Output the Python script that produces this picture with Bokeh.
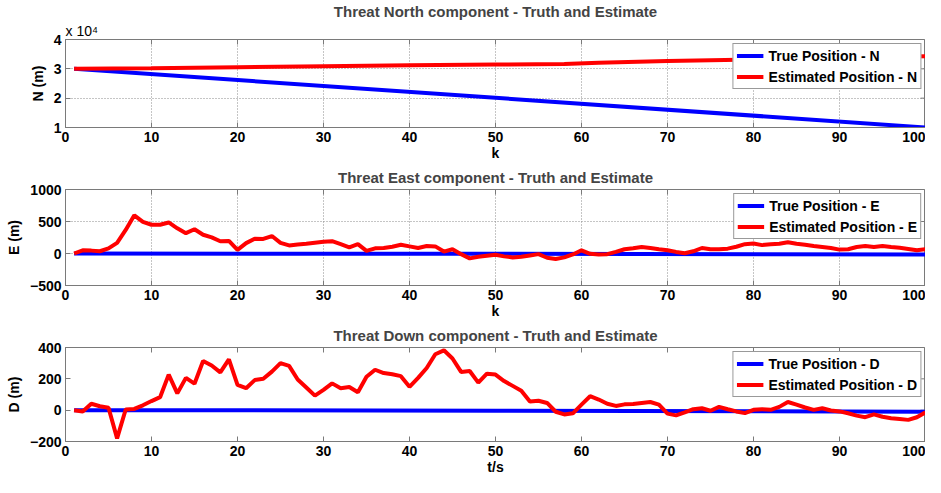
import math
from bokeh.plotting import figure
from bokeh.layouts import column
from bokeh.models import (Legend, LegendItem, Title, CustomJSTickFormatter,
                          FixedTicker, Range1d)
from bokeh.embed import file_html
from bokeh.resources import INLINE

FONT = "Liberation Sans"

# ---------------- data ----------------
k_true_n = [1, 100]
n_true = [30000, 10000]
k_est_n = [1, 10, 20, 30, 40, 50, 58, 62, 70, 80, 90, 100]
n_est = [30000, 30200, 30550, 30900, 31200, 31450, 31650, 32100, 32700, 33200, 33700, 34300]

k = list(range(1, 101))

k_true_e = [1, 50, 100]
e_true = [0, -5, -15]
e_est = [0, 50, 45, 35, 80, 167, 368, 596, 495, 449,
         449, 485, 394, 318, 379, 293, 253, 192, 197, 56,
         162, 232, 227, 273, 167, 126, 141, 152, 167, 182,
         192, 146, 96, 146, 40, 81, 86, 106, 136, 111,
         86, 116, 111, 30, 66, -10, -76, -50, -35, -20,
         -45, -61, -50, -30, -10, -66, -86, -61, -15, 50,
         -5, -15, -10, 25, 66, 81, 101, 86, 66, 50,
         25, 5, 35, 86, 66, 66, 76, 106, 146, 156,
         131, 146, 151, 177, 151, 136, 116, 101, 86, 61,
         66, 101, 116, 101, 116, 101, 91, 71, 50, 66]

k_true_d = [1, 50, 100]
d_true = [0, -3, -10]
d_est = [0, -8, 41, 25, 15, -180, 4, 8, 31, 58,
         83, 227, 107, 206, 169, 314, 285, 241, 324, 161,
         140, 192, 200, 246, 300, 283, 196, 145, 93, 130,
         171, 140, 148, 114, 213, 258, 237, 229, 217, 149,
         206, 269, 357, 382, 330, 244, 250, 176, 233, 227,
         186, 155, 124, 56, 60, 46, -10, -27, -20, 35,
         89, 68, 41, 27, 37, 40, 46, 52, 35, -22,
         -33, -14, 6, 12, -4, 21, 6, -8, -19, 2,
         6, 2, 21, 52, 35, 17, 2, 12, -2, -8,
         -20, -35, -45, -27, -42, -51, -56, -62, -45, -14]

x_ticks = [0, 10, 20, 30, 40, 50, 60, 70, 80, 90, 100]
n_ticks = [10000, 20000, 30000, 40000]
e_ticks = [-500, 0, 500, 1000]
d_ticks = [-200, 0, 200, 400]

titles = ["Threat North component - Truth and Estimate",
          "Threat East component - Truth and Estimate",
          "Threat Down component - Truth and Estimate"]

AX = "#7a7a7a"
BLUE = "#0000ff"
RED = "#ff0000"
LW = 4
W = 923


def make_panel(title, height, yr, yticks, ylabel, xlabel,
               kt, yt, ke, ye, suffix, grid=True, standoff=5):
    p = figure(width=W, height=height, output_backend="svg", toolbar_location=None,
               x_range=Range1d(0, 100), y_range=Range1d(*yr),
               min_border_left=0, min_border_right=0,
               min_border_top=0, min_border_bottom=0)
    p.title.text = title
    p.title.align = "center"
    p.title.text_font = FONT
    p.title.text_font_size = "15px"
    p.title.text_font_style = "bold"
    p.title.text_line_height = 1.0
    p.title.standoff = standoff
    p.outline_line_color = AX
    p.background_fill_color = "white"
    p.border_fill_color = "white"

    for ax in (p.xaxis[0], p.yaxis[0]):
        ax.major_tick_in = 5
        ax.major_tick_out = 0
        ax.minor_tick_line_color = None
        ax.axis_line_color = AX
        ax.major_tick_line_color = AX
        ax.major_label_text_font = FONT
        ax.major_label_text_font_size = "14px"
        ax.major_label_text_font_style = "bold"
        ax.major_label_text_color = "black"
        ax.major_label_text_line_height = 1.0
        ax.axis_label_text_font = FONT
        ax.axis_label_text_font_size = "14px"
        ax.axis_label_text_font_style = "bold"
        ax.axis_label_text_color = "black"
        ax.axis_label_text_line_height = 1.0
    p.xaxis[0].major_label_standoff = 4
    p.xaxis[0].axis_label_standoff = 0
    p.yaxis[0].major_label_standoff = 4
    p.yaxis[0].axis_label_standoff = 5
    p.xaxis[0].ticker = FixedTicker(ticks=x_ticks)
    p.yaxis[0].ticker = FixedTicker(ticks=yticks)
    p.xaxis[0].axis_label = xlabel
    p.yaxis[0].axis_label = ylabel

    if grid:
        p.grid.grid_line_color = "#8a8a8a"
        p.grid.grid_line_dash = "1 2"
        p.grid.grid_line_width = 1
        p.xgrid.ticker = FixedTicker(ticks=x_ticks)
        p.ygrid.ticker = FixedTicker(ticks=yticks)
    else:
        p.grid.visible = False

    # inward tick marks on the top and right edges of the box (clipped to the frame)
    p.scatter(x_ticks, [yr[1]] * len(x_ticks), marker="dash", angle=math.pi / 2,
              size=10, line_color=AX, line_width=1)
    p.scatter([100] * len(yticks), yticks, marker="dash", angle=0,
              size=10, line_color=AX, line_width=1)

    r1 = p.line(kt, yt, line_color=BLUE, line_width=LW)
    r2 = p.line(ke, ye, line_color=RED, line_width=LW)
    leg = Legend(items=[LegendItem(label="True Position - " + suffix, renderers=[r1]),
                        LegendItem(label="Estimated Position - " + suffix, renderers=[r2])],
                 location="top_right")
    leg.label_text_font = FONT
    leg.label_text_font_size = "14px"
    leg.label_text_font_style = "bold"
    leg.label_text_color = "black"
    leg.border_line_color = "#333333"
    leg.border_line_width = 1
    leg.background_fill_alpha = 1.0
    leg.glyph_width = 27
    leg.glyph_height = 17
    leg.label_height = 17
    leg.spacing = 4
    leg.padding = 3
    leg.margin = 4
    leg.label_standoff = 5
    p.add_layout(leg)
    return p


p1 = make_panel(titles[0], 163, (10000, 40000), n_ticks, "N (m)", "k",
                k_true_n, n_true, k_est_n, n_est, "N", standoff=0)
p1.yaxis[0].formatter = CustomJSTickFormatter(code="return (tick/10000).toFixed(0);")
p1.add_layout(Title(text="x 10\u2074", align="left", text_font=FONT,
                    text_font_size="14px", text_font_style="normal",
                    text_line_height=0.4, text_color="black", standoff=2), "above")

p2 = make_panel(titles[1], 158, (-500, 1000), e_ticks, "E (m)", "k",
                k_true_e, e_true, k, e_est, "E", standoff=7)
p3 = make_panel(titles[2], 156, (-200, 400), d_ticks, "D (m)", "t/s",
                k_true_d, d_true, k, d_est, "D", grid=False, standoff=7)

layout = column(p1, p2, p3, spacing=0, margin=(0, 0, 0, 2))
open("out.html", "w").write(file_html(layout, INLINE))
